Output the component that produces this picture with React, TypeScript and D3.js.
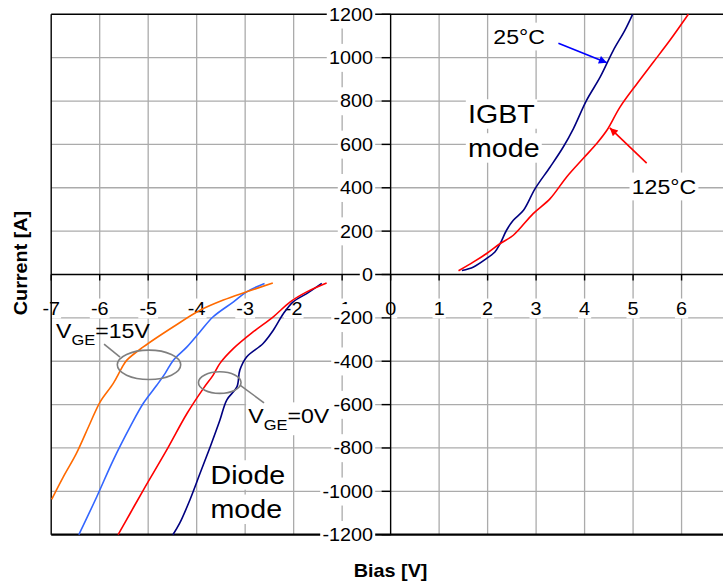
import React, { useEffect, useRef } from "react";
import * as d3 from "d3";

const W = 723;
const H = 582;

const xTicks = [-7, -6, -5, -4, -3, -2, -1, 0, 1, 2, 3, 4, 5, 6];
const xTickLabels = ["-7", "-6", "-5", "-4", "-3", "-2", "-1", "0", "1", "2", "3", "4", "5", "6"];
const yTicks = [1200, 1000, 800, 600, 400, 200, 0, -200, -400, -600, -800, -1000, -1200];
const yTickLabels = ["1200", "1000", "800", "600", "400", "200", "0", "-200", "-400", "-600", "-800", "-1000", "-1200"];

// IGBT mode, 25°C (navy)
const igbt25: [number, number][] = [
  [1.47, 18], [1.71, 35], [1.98, 74], [2.15, 104], [2.26, 143], [2.39, 204], [2.53, 250],
  [2.74, 296], [2.98, 396], [3.29, 496], [3.56, 588], [3.77, 673], [4.04, 803], [4.32, 910],
  [4.59, 1033], [4.83, 1126], [4.99, 1200],
];
// IGBT mode, 125°C (red)
const igbt125: [number, number][] = [
  [1.40, 17], [1.71, 58], [1.98, 97], [2.26, 143], [2.53, 181], [2.94, 281], [3.29, 350],
  [3.63, 450], [3.97, 535], [4.25, 604], [4.46, 665], [4.73, 772], [5.08, 880], [5.42, 980],
  [5.76, 1080], [6.14, 1200],
];
// Diode mode, VGE=0V, 25°C (navy)
const diode0V25: [number, number][] = [
  [-1.42, -41], [-1.73, -88], [-2.01, -126], [-2.21, -180], [-2.42, -257], [-2.63, -318],
  [-2.97, -380], [-3.11, -441], [-3.17, -518], [-3.38, -579], [-3.52, -671], [-3.72, -794],
  [-3.93, -917], [-4.14, -1040], [-4.35, -1147], [-4.49, -1200],
];
// Diode mode, VGE=0V, 125°C (red)
const diode0V125: [number, number][] = [
  [-1.32, -39], [-1.73, -80], [-2.07, -126], [-2.42, -195], [-2.83, -264], [-3.24, -341],
  [-3.52, -410], [-3.66, -464], [-3.86, -525], [-4.20, -641], [-4.62, -810], [-5.10, -994],
  [-5.37, -1101], [-5.62, -1200],
];
// Diode mode, VGE=15V, 25°C (blue)
const diode15V25: [number, number][] = [
  [-2.60, -41], [-2.97, -80], [-3.24, -126], [-3.66, -195], [-3.93, -264], [-4.20, -334],
  [-4.48, -395], [-4.65, -456], [-4.82, -510], [-5.10, -594], [-5.37, -702], [-5.72, -856],
  [-6.06, -1025], [-6.43, -1200],
];
// Diode mode, VGE=15V, 125°C (orange)
const diode15V125: [number, number][] = [
  [-2.43, -39], [-2.97, -80], [-3.45, -118], [-3.93, -165], [-4.48, -241], [-5.10, -334],
  [-5.44, -395], [-5.55, -433], [-5.72, -502], [-5.99, -587], [-6.20, -687], [-6.48, -825],
  [-6.75, -933], [-6.99, -1037],
];

const seriesColors = ["#000080", "#ff0000", "#000080", "#ff0000", "#3366ff", "#ff6a00"];

const FONT = "'Liberation Sans', Arial, Helvetica, sans-serif";
const SX = 1.1;

export default function App() {
  const ref = useRef<SVGSVGElement | null>(null);

  useEffect(() => {
    const svg = d3.select(ref.current);
    svg.selectAll("*").remove();

    const x = d3.scaleLinear().domain([-7, 7]).range([51.2, 51.2 + 14 * 48.49]);
    const y = d3.scaleLinear().domain([-1200, 1200]).range([534.7, 14.3]);

    const defs = svg.append("defs");
    const mk = (id: string, color: string) =>
      defs.append("marker").attr("id", id).attr("markerUnits", "userSpaceOnUse")
        .attr("viewBox", "0 0 10 10").attr("refX", 10).attr("refY", 5)
        .attr("markerWidth", 11).attr("markerHeight", 8).attr("orient", "auto")
        .append("path").attr("d", "M0,0 L10,5 L0,10 z").attr("fill", color);
    mk("arrBlue", "#0000ff");
    mk("arrRed", "#ff0000");

    const label = (
      parent: any, px: number, py: number, parts: { t: string; size: number; dy?: number }[],
      opt: { anchor?: string; bold?: boolean; bg?: boolean; rotate?: number; padX?: number; padY?: number } = {}
    ) => {
      const g = parent.append("g").attr(
        "transform",
        `translate(${px},${py})${opt.rotate ? ` rotate(${opt.rotate})` : ""} scale(${SX},1)`
      );
      const r = g.append("rect").attr("fill", "white");
      const t = g.append("text").attr("font-family", FONT).attr("fill", "#000")
        .attr("text-anchor", opt.anchor || "start").attr("font-weight", opt.bold ? "bold" : "normal");
      parts.forEach((p) => {
        const ts = t.append("tspan").attr("font-size", p.size).text(p.t);
        if (p.dy) ts.attr("dy", p.dy);
      });
      if (opt.bg) {
        const b = (t.node() as SVGTextElement).getBBox();
        const px2 = opt.padX ?? 2, py2 = opt.padY ?? 2;
        r.attr("x", b.x - px2).attr("y", b.y - py2).attr("width", b.width + 2 * px2).attr("height", b.height + 2 * py2);
      } else r.remove();
      return g;
    };

    const x0 = x(-7), x1 = W + 5;
    const yTop = y(1200), yBot = y(-1200);

    // gridlines
    const grid = svg.append("g").attr("stroke", "#ababab").attr("stroke-width", 1.3);
    [-6, -5, -4, -3, -2, -1, 1, 2, 3, 4, 5, 6, 7].forEach((v) => {
      grid.append("line").attr("x1", x(v)).attr("x2", x(v)).attr("y1", yTop).attr("y2", yBot);
    });
    [1000, 800, 600, 400, 200, -200, -400, -600, -800, -1000].forEach((v) => {
      grid.append("line").attr("x1", x0).attr("x2", x1).attr("y1", y(v)).attr("y2", y(v));
    });

    // x tick labels
    const xl = svg.append("g");
    xTicks.forEach((v, i) => {
      label(xl, x(v), y(0) + 40.2, [{ t: xTickLabels[i], size: 18 }], { anchor: "middle", bg: true, padX: 1, padY: 0 });
    });

    // annotation texts
    const ann = svg.append("g");
    label(ann, x(2.118), y(1064.5), [{ t: "25°C", size: 21 }], { bg: true });
    label(ann, x(4.972), y(373), [{ t: "125°C", size: 21 }], { bg: true });
    label(ann, x(1.596), y(698.6), [{ t: "IGBT", size: 26 }], { bg: true, padY: 0 });
    label(ann, x(1.596), y(541.9), [{ t: "mode", size: 26 }], { bg: true, padY: 0 });
    label(ann, x(-3.714), y(-966.3), [{ t: "Diode", size: 26 }], { bg: true, padY: 0 });
    label(ann, x(-3.714), y(-1124.4), [{ t: "mode", size: 26 }], { bg: true, padY: 0 });
    label(ann, x(-2.935), y(-686.6), [{ t: "V", size: 21 }, { t: "GE", size: 15, dy: 7 }, { t: "=0V", size: 21, dy: -7 }], { bg: true });
    label(ann, x(-6.9), y(-294.9), [{ t: "V", size: 21 }, { t: "GE", size: 15, dy: 7 }, { t: "=15V", size: 21, dy: -7 }], { bg: false });

    // axes and borders
    const ax = svg.append("g").attr("stroke", "#000");
    ax.append("line").attr("x1", x0).attr("x2", x0).attr("y1", yTop).attr("y2", yBot).attr("stroke-width", 1.4);
    ax.append("line").attr("x1", x0).attr("x2", x1).attr("y1", yTop).attr("y2", yTop).attr("stroke-width", 1.4);
    ax.append("line").attr("x1", x0).attr("x2", x1).attr("y1", yBot).attr("y2", yBot).attr("stroke-width", 2.2);
    ax.append("line").attr("x1", x(0)).attr("x2", x(0)).attr("y1", yTop).attr("y2", yBot).attr("stroke-width", 1.4);
    ax.append("line").attr("x1", x0).attr("x2", x1).attr("y1", y(0)).attr("y2", y(0)).attr("stroke-width", 1.4);
    xTicks.concat([7]).forEach((v) => {
      ax.append("line").attr("x1", x(v)).attr("x2", x(v)).attr("y1", y(0)).attr("y2", y(0) + 6).attr("stroke-width", 1.4);
    });
    yTicks.forEach((v) => {
      ax.append("line").attr("x1", x(0) - 9).attr("x2", x(0)).attr("y1", y(v)).attr("y2", y(v)).attr("stroke-width", 1.4);
    });

    // y tick labels
    const yl = svg.append("g");
    yTicks.forEach((v, i) => {
      label(yl, 373, y(v) + 6.4, [{ t: yTickLabels[i], size: 18 }], { anchor: "end", bg: true, padX: 2, padY: 4 });
    });

    // axis titles
    label(svg, x(0), 576.5, [{ t: "Bias [V]", size: 18 }], { anchor: "middle", bold: true });
    label(svg, 26.5, 263, [{ t: "Current [A]", size: 18 }], { anchor: "middle", bold: true, rotate: -90 });

    // data curves
    const line = d3.line<[number, number]>().x((d) => x(d[0])).y((d) => y(d[1])).curve(d3.curveCatmullRom.alpha(0.5));
    const series = [igbt25, igbt125, diode0V25, diode0V125, diode15V25, diode15V125];
    const dl = svg.append("g").attr("fill", "none").attr("stroke-width", 1.6);
    series.forEach((s, i) => {
      dl.append("path").attr("d", line(s) as string).attr("stroke", seriesColors[i]);
    });

    // ellipses and leaders
    const ov = svg.append("g").attr("fill", "none").attr("stroke", "#7f7f7f").attr("stroke-width", 1.6);
    ov.append("ellipse").attr("cx", x(-4.983)).attr("cy", y(-416.6))
      .attr("rx", x(-4.983 + 0.654) - x(-4.983)).attr("ry", y(-416.6 - 67.7) - y(-416.6));
    ov.append("ellipse").attr("cx", x(-3.524)).attr("cy", y(-498.6))
      .attr("rx", x(-3.524 + 0.439) - x(-3.524)).attr("ry", y(-498.6 - 49.8) - y(-498.6));
    ov.append("line").attr("x1", x(-5.91)).attr("y1", y(-321)).attr("x2", x(-5.58)).attr("y2", y(-381));
    ov.append("line").attr("x1", x(-3.106)).attr("y1", y(-510)).attr("x2", x(-2.611)).attr("y2", y(-591.7));

    // arrows
    svg.append("line").attr("x1", x(3.46)).attr("y1", y(1067)).attr("x2", x(4.46)).attr("y2", y(977))
      .attr("stroke", "#0000ff").attr("stroke-width", 1.6).attr("marker-end", "url(#arrBlue)");
    svg.append("line").attr("x1", x(5.28)).attr("y1", y(514)).attr("x2", x(4.52)).attr("y2", y(676))
      .attr("stroke", "#ff0000").attr("stroke-width", 1.6).attr("marker-end", "url(#arrRed)");
  }, []);

  return (
    <svg
      ref={ref}
      width={W}
      height={H}
      style={{ position: "absolute", left: 0, top: 0, background: "#fff" }}
    />
  );
}
